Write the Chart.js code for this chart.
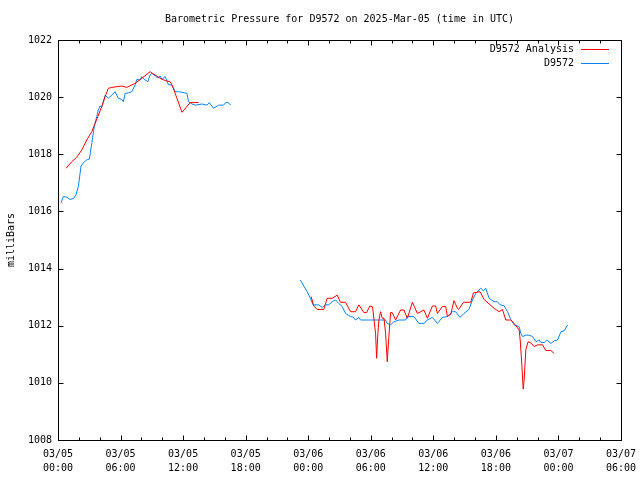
<!DOCTYPE html>
<html>
<head>
<meta charset="utf-8">
<script src="https://cdn.jsdelivr.net/npm/chart.js@4.4.1/dist/chart.umd.min.js"></script>
<style>html,body{margin:0;padding:0;background:#fff;}canvas{display:block;}</style>
</head>
<body>
<canvas id="c" width="640" height="480"></canvas>
<script>
// Hours since 2025-03-05 00:00 UTC
const chartTitle = 'Barometric Pressure for D9572 on 2025-Mar-05 (time in UTC)';
const xTickLabels = [
  ['03/05','00:00'],['03/05','06:00'],['03/05','12:00'],['03/05','18:00'],
  ['03/06','00:00'],['03/06','06:00'],['03/06','12:00'],['03/06','18:00'],
  ['03/07','00:00'],['03/07','06:00']
];
const yTicks = [1008,1010,1012,1014,1016,1018,1020,1022];

// D9572 (observations) - null marks the data gap
const obsHours = [0.29,0.51,0.84,1.15,1.47,1.73,1.95,2.21,2.53,2.82,3.01,3.24,3.49,3.72,3.87,4.04,4.2,4.35,4.52,4.83,5.16,5.48,5.79,6.12,6.27,6.44,6.75,7.08,7.4,7.56,7.88,8.04,8.36,8.62,8.84,9.0,9.32,9.58,9.8,9.96,10.28,10.6,10.92,11.24,11.56,11.89,12.37,12.52,12.85,13.16,13.81,14.29,14.51,14.92,15.4,15.88,16.11,16.33,16.59,
  20.0,
  23.25,23.57,23.9,24.21,24.47,25.01,25.34,25.65,25.97,26.3,26.62,26.93,27.26,27.58,28.06,28.32,28.54,28.86,29.02,29.98,30.94,31.42,31.58,31.9,32.22,32.7,33.34,33.51,34.14,34.62,35.1,35.43,35.91,36.39,36.87,37.35,37.83,38.14,38.56,38.94,39.42,39.75,40.07,40.55,40.81,41.03,41.35,41.83,42.15,42.4,42.79,43.12,43.43,43.75,44.23,44.39,44.56,44.87,45.19,45.52,45.84,46.15,46.32,46.63,46.89,47.28,47.59,47.92,48.24,48.55,48.88];
const obsPressure = [1016.3,1016.52,1016.5,1016.42,1016.45,1016.58,1016.87,1017.59,1017.74,1017.82,1017.83,1018.38,1019.0,1019.32,1019.55,1019.69,1019.66,1019.84,1020.07,1019.96,1020.07,1020.19,1019.96,1019.92,1019.84,1020.13,1020.15,1020.19,1020.43,1020.62,1020.6,1020.72,1020.6,1020.54,1020.78,1020.83,1020.75,1020.67,1020.74,1020.62,1020.72,1020.43,1020.43,1020.19,1020.19,1020.17,1020.13,1019.84,1019.76,1019.72,1019.76,1019.72,1019.81,1019.61,1019.72,1019.72,1019.82,1019.8,1019.72,
  null,
  1013.6,1013.39,1013.19,1012.96,1012.73,1012.73,1012.64,1012.73,1012.73,1012.84,1012.9,1012.78,1012.67,1012.43,1012.32,1012.3,1012.2,1012.29,1012.2,1012.2,1012.2,1012.2,1012.08,1012.03,1012.14,1012.2,1012.2,1012.32,1012.32,1012.08,1012.08,1012.2,1012.29,1012.08,1012.29,1012.32,1012.49,1012.49,1012.29,1012.43,1012.57,1012.9,1013.13,1013.31,1013.22,1013.31,1012.96,1012.84,1012.84,1012.73,1012.7,1012.49,1012.22,1012.03,1011.97,1011.73,1011.62,1011.67,1011.67,1011.62,1011.44,1011.5,1011.41,1011.41,1011.5,1011.38,1011.47,1011.5,1011.79,1011.82,1012.03];

// D9572 Analysis
const anaHours = [0.77,1.32,1.8,2.28,2.76,3.24,3.56,4.2,4.52,4.83,5.16,6.12,6.6,7.08,7.4,8.04,8.84,9.16,9.8,10.28,10.76,10.98,11.89,12.68,13.48,
  18.0,
  24.28,24.53,24.86,25.49,25.82,26.3,26.78,27.1,27.58,28.06,28.54,28.86,29.34,29.6,29.91,30.17,30.46,30.56,30.68,30.78,30.94,31.1,31.27,31.42,31.58,31.73,31.9,32.06,32.38,32.86,33.18,33.51,33.99,34.47,35.1,35.43,35.91,36.22,36.39,36.87,37.19,37.35,37.67,37.98,38.31,38.43,38.89,39.59,39.85,40.48,40.87,41.35,41.83,42.31,42.63,42.95,43.43,43.75,44.23,44.33,44.46,44.62,44.71,44.87,45.09,45.35,45.67,45.99,46.47,46.79,47.28,47.59];
const anaPressure = [1017.51,1017.74,1017.9,1018.15,1018.5,1018.79,1019.08,1019.67,1020.02,1020.31,1020.34,1020.39,1020.34,1020.43,1020.48,1020.66,1020.89,1020.81,1020.66,1020.58,1020.54,1020.39,1019.47,1019.81,1019.81,
  null,
  1013.02,1012.69,1012.57,1012.57,1012.96,1012.96,1013.07,1012.82,1012.82,1012.49,1012.49,1012.73,1012.46,1012.46,1012.69,1012.66,1011.73,1010.86,1011.73,1012.2,1012.49,1012.26,1012.26,1011.73,1010.74,1011.6,1012.46,1012.46,1012.2,1012.55,1012.55,1012.26,1012.82,1012.43,1012.55,1012.26,1012.69,1012.69,1012.43,1012.67,1012.67,1012.32,1012.4,1012.88,1012.61,1012.57,1012.82,1012.82,1013.15,1013.19,1012.92,1012.76,1012.61,1012.49,1012.57,1012.2,1012.2,1012.08,1011.85,1011.5,1010.8,1009.78,1010.1,1011.15,1011.44,1011.4,1011.27,1011.33,1011.33,1011.13,1011.13,1011.03];

const seriesLabels = ['D9572 Analysis','D9572'];
const seriesColors = ['#ff0000','#0a84f0'];

const FONT = "'DejaVu Sans Mono', 'Liberation Mono', monospace";

function pts(xs, ys){ return xs.map((x,i)=>({x:x, y:ys[i]})); }

const framePlugin = {
  id: 'frame',
  afterDatasetsDraw(chart){
    const ctx = chart.ctx, a = chart.chartArea;
    const xs = chart.scales.x, ys = chart.scales.y;
    const L = Math.round(a.left)+0.5, R = Math.round(a.right)+0.5, T = Math.round(a.top)+0.5, B = Math.round(a.bottom)+0.5;
    ctx.save();
    ctx.strokeStyle = '#000'; ctx.lineWidth = 1;
    ctx.strokeRect(L, T, R-L, B-T);
    ctx.beginPath();
    for (let h = 0; h <= 54; h += 2) {
      const px = Math.round(xs.getPixelForValue(h)) + 0.5;
      const len = (h % 6 === 0) ? 5 : 3;
      ctx.moveTo(px, B); ctx.lineTo(px, B - len);
      ctx.moveTo(px, T); ctx.lineTo(px, T + len);
    }
    yTicks.forEach(v => {
      const py = Math.round(ys.getPixelForValue(v)) + 0.5;
      ctx.moveTo(L, py); ctx.lineTo(L + 5, py);
      ctx.moveTo(R, py); ctx.lineTo(R - 5, py);
    });
    ctx.stroke();
    // title, centred over the plot area
    ctx.font = '10px ' + FONT;
    ctx.fillStyle = '#000';
    ctx.textAlign = 'center'; ctx.textBaseline = 'middle';
    ctx.fillText(chartTitle, (a.left + a.right) / 2, 19);
    // legend
    ctx.textAlign = 'right';
    seriesLabels.forEach((lab, i) => {
      const y = Math.round(a.top) + 9 + i*14;
      ctx.fillText(lab, 574, y);
      ctx.strokeStyle = seriesColors[i];
      ctx.beginPath(); ctx.moveTo(581, y+0.5); ctx.lineTo(609, y+0.5); ctx.stroke();
    });
    ctx.restore();
  }
};

new Chart(document.getElementById('c'), {
  type: 'line',
  data: {
    datasets: [
      { label: seriesLabels[0], data: pts(anaHours, anaPressure), borderColor: seriesColors[0], borderWidth: 1, pointRadius: 0, tension: 0, spanGaps: false, fill: false },
      { label: seriesLabels[1], data: pts(obsHours, obsPressure), borderColor: seriesColors[1], borderWidth: 1, pointRadius: 0, tension: 0, spanGaps: false, fill: false }
    ]
  },
  options: {
    responsive: false,
    animation: false,
    events: [],
    layout: { padding: { left: 0, right: 0, top: 40, bottom: 0 } },
    plugins: {
      legend: { display: false },
      tooltip: { enabled: false },
      title: { display: false }
    },
    scales: {
      x: {
        type: 'linear', min: 0, max: 54,
        afterFit(s){ s.height = 40; s.paddingLeft = 0; s.paddingRight = 19; },
        afterBuildTicks(s){ s.ticks = xTickLabels.map((_, i) => ({ value: i*6 })); },
        grid: { display: false, drawTicks: false },
        border: { display: false },
        ticks: {
          autoSkip: false, maxRotation: 0, padding: 7, color: '#000',
          font: { family: FONT, size: 10, lineHeight: 1.4 },
          callback: (v, i) => xTickLabels[i]
        }
      },
      y: {
        type: 'linear', min: 1008, max: 1022,
        afterFit(s){ s.width = 58; },
        afterBuildTicks(s){ s.ticks = yTicks.map(v => ({ value: v })); },
        grid: { display: false, drawTicks: false },
        border: { display: false },
        ticks: { padding: 6, color: '#000', font: { family: FONT, size: 10 }, callback: v => String(v) },
        title: { display: true, text: 'milliBars', color: '#000', font: { family: FONT, size: 10, lineHeight: 1.2 }, padding: { top: 5, bottom: 0 } }
      }
    }
  },
  plugins: [framePlugin]
});
</script>
</body>
</html>
